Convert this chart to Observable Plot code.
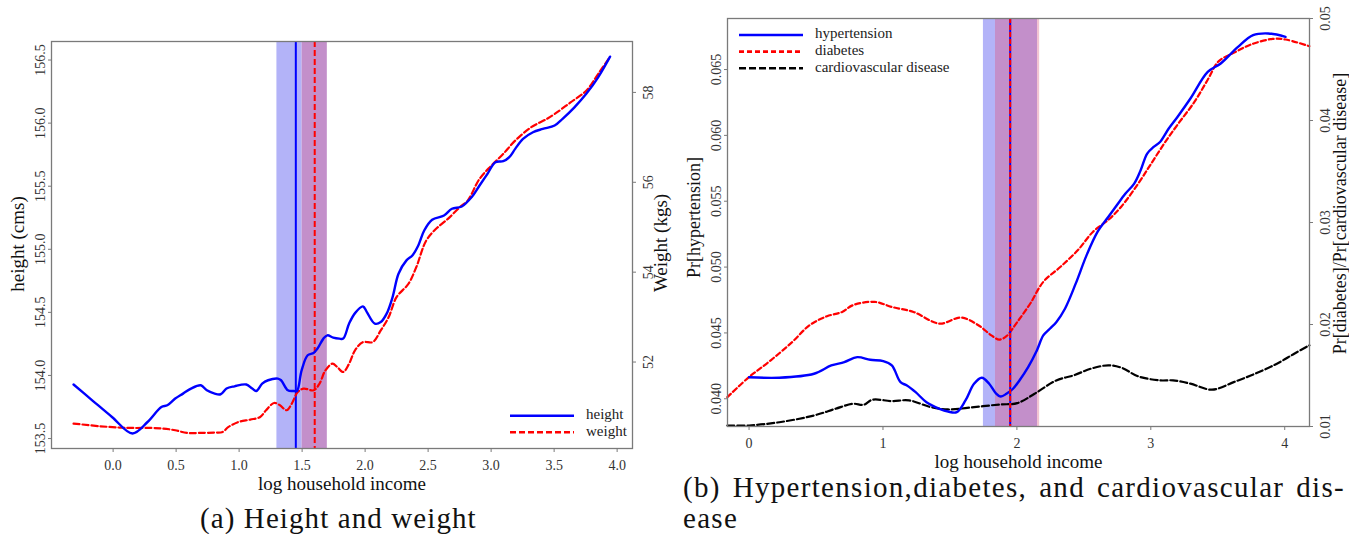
<!DOCTYPE html>
<html>
<head>
<meta charset="utf-8">
<script src="https://cdn.jsdelivr.net/npm/d3@7"></script>
<script src="https://cdn.jsdelivr.net/npm/@observablehq/plot@0.6"></script>
<style>
  html, body { margin: 0; padding: 0; background: #fff; }
  body { width: 1349px; height: 534px; position: relative; overflow: hidden; font-family: "Liberation Serif", "Times New Roman", serif; color: #111; }
  .panel { position: absolute; top: 0; }
  #panelA { left: 0; }
  #panelB { left: 680px; }
  .panel svg { font-family: "Liberation Serif", "Times New Roman", serif; font-size: 14px; }
  .cap { position: absolute; font-size: 29px; line-height: 30px; white-space: nowrap; }
  #capA { left: 200px; top: 503px; letter-spacing: 1.1px; }
  #capB1 { left: 683px; top: 472px; width: 662px; text-align: justify; text-align-last: justify; letter-spacing: 1.3px; }
  #capB2 { left: 683px; top: 503px; letter-spacing: 1.3px; }
  #legend { position: absolute; left: 0; top: 0; pointer-events: none; }
  #legend text { font-family: "Liberation Serif", "Times New Roman", serif; font-size: 15px; fill: #222; dominant-baseline: middle; }
</style>
</head>
<body>
<div id="panelA" class="panel"></div>
<div id="panelB" class="panel"></div>
<svg id="legend" width="1349" height="534"></svg>
<div id="capA" class="cap">(a) Height and weight</div>
<div id="capB1" class="cap">(b) Hypertension,diabetes, and cardiovascular dis-</div>
<div id="capB2" class="cap">ease</div>
<script>
// ---------- Panel (a): height and weight by log household income ----------
const incomeHeight = [-0.314, -0.166, -0.009, 0.154, 0.273, 0.383, 0.430, 0.493, 0.555, 0.618, 0.696, 0.744, 0.806, 0.853, 0.900, 0.963, 1.057, 1.104, 1.136, 1.183, 1.230, 1.308, 1.333, 1.387, 1.434, 1.459, 1.496, 1.544, 1.591, 1.622, 1.669, 1.700, 1.747, 1.795, 1.826, 1.873, 1.920, 1.983, 2.014, 2.077, 2.124, 2.171, 2.218, 2.265, 2.328, 2.375, 2.422, 2.469, 2.532, 2.626, 2.689, 2.767, 2.845, 2.908, 2.971, 3.034, 3.096, 3.144, 3.191, 3.253, 3.332, 3.410, 3.504, 3.567, 3.661, 3.755, 3.849, 3.944];
const heightCm = [153.928, 153.803, 153.671, 153.540, 153.631, 153.750, 153.764, 153.817, 153.856, 153.896, 153.922, 153.882, 153.856, 153.851, 153.896, 153.914, 153.928, 153.896, 153.877, 153.935, 153.962, 153.975, 153.962, 153.882, 153.877, 153.877, 154.041, 154.160, 154.178, 154.213, 154.292, 154.318, 154.300, 154.292, 154.292, 154.411, 154.494, 154.547, 154.502, 154.411, 154.423, 154.490, 154.621, 154.806, 154.912, 154.951, 155.030, 155.149, 155.234, 155.268, 155.321, 155.339, 155.413, 155.506, 155.598, 155.690, 155.698, 155.730, 155.796, 155.875, 155.928, 155.954, 155.981, 156.034, 156.125, 156.232, 156.363, 156.527];

const incomeWeight = [-0.314, -0.104, 0.053, 0.154, 0.304, 0.398, 0.493, 0.587, 0.681, 0.806, 0.869, 0.916, 0.995, 1.089, 1.167, 1.214, 1.277, 1.324, 1.377, 1.418, 1.465, 1.512, 1.591, 1.638, 1.685, 1.741, 1.779, 1.826, 1.873, 1.920, 1.983, 2.061, 2.124, 2.187, 2.249, 2.344, 2.406, 2.485, 2.563, 2.657, 2.751, 2.814, 2.908, 3.002, 3.096, 3.191, 3.316, 3.441, 3.504, 3.630, 3.755, 3.849, 3.944];
const weightKg = [50.631, 50.571, 50.542, 50.533, 50.533, 50.520, 50.482, 50.422, 50.422, 50.431, 50.444, 50.556, 50.667, 50.720, 50.778, 50.927, 51.089, 51.038, 50.927, 51.076, 51.333, 51.409, 51.371, 51.520, 51.816, 51.964, 51.889, 51.778, 51.964, 52.260, 52.444, 52.444, 52.704, 53.000, 53.444, 53.742, 54.111, 54.704, 54.964, 55.187, 55.444, 55.593, 56.076, 56.371, 56.631, 56.927, 57.222, 57.409, 57.520, 57.778, 58.038, 58.409, 58.793];

// estimated breakpoints (solid = height, dashed = weight) and their bands
const breakHeight = 1.45;
const breakWeight = 1.60;
const bandEdgesA = [1.30, 1.50, 1.70];

const incomeTicksA = [0, 0.5, 1, 1.5, 2, 2.5, 3, 3.5, 4];
const heightTicks = [153.5, 154, 154.5, 155, 155.5, 156, 156.5];
const weightTicks = [52, 54, 56, 58];

// ---------- Panel (b): hypertension, diabetes, cardiovascular disease ----------
const incomeHyp = [0, 0.226, 0.485, 0.614, 0.711, 0.808, 0.905, 1.002, 1.066, 1.131, 1.179, 1.244, 1.325, 1.422, 1.486, 1.551, 1.616, 1.680, 1.738, 1.793, 1.842, 1.880, 1.922, 1.971, 2.019, 2.084, 2.149, 2.197, 2.246, 2.294, 2.359, 2.439, 2.520, 2.601, 2.682, 2.746, 2.811, 2.876, 2.924, 2.973, 3.021, 3.069, 3.134, 3.199, 3.296, 3.425, 3.522, 3.651, 3.764, 3.877, 4.006];
const hypertension = [0.04164, 0.04160, 0.04190, 0.04253, 0.04278, 0.04316, 0.04296, 0.04286, 0.04253, 0.04126, 0.04101, 0.04050, 0.03974, 0.03924, 0.03903, 0.03898, 0.03987, 0.04114, 0.04160, 0.04114, 0.04043, 0.04017, 0.04038, 0.04076, 0.04139, 0.04240, 0.04367, 0.04481, 0.04532, 0.04582, 0.04684, 0.04874, 0.05089, 0.05266, 0.05380, 0.05469, 0.05558, 0.05634, 0.05735, 0.05862, 0.05912, 0.05950, 0.06052, 0.06140, 0.06280, 0.06482, 0.06546, 0.06672, 0.06761, 0.06774, 0.06748];

const incomeDia = [-0.162, 0, 0.162, 0.323, 0.452, 0.582, 0.695, 0.775, 0.937, 1.066, 1.228, 1.422, 1.583, 1.712, 1.809, 1.868, 1.922, 2.003, 2.100, 2.197, 2.326, 2.456, 2.569, 2.682, 2.779, 2.908, 3.005, 3.102, 3.199, 3.328, 3.425, 3.506, 3.619, 3.748, 3.910, 4.006, 4.184];
const diabetes = [0.01288, 0.01485, 0.01649, 0.01829, 0.01993, 0.02081, 0.02123, 0.02189, 0.02222, 0.02172, 0.02123, 0.02009, 0.02068, 0.01993, 0.01894, 0.01852, 0.01885, 0.02025, 0.02206, 0.02418, 0.02566, 0.02730, 0.02910, 0.03025, 0.03155, 0.03385, 0.03582, 0.03778, 0.03958, 0.04187, 0.04400, 0.04580, 0.04663, 0.04745, 0.04800, 0.04794, 0.04728];

const incomeCvd = [-0.162, 0, 0.226, 0.485, 0.646, 0.775, 0.856, 0.921, 1.066, 1.195, 1.357, 1.486, 1.680, 1.874, 2.003, 2.132, 2.294, 2.423, 2.553, 2.682, 2.779, 2.908, 3.069, 3.166, 3.296, 3.457, 3.619, 3.780, 3.942, 4.071, 4.184];
const cardiovascular = [0.0101, 0.0101, 0.01042, 0.01108, 0.01174, 0.01223, 0.01213, 0.01262, 0.01249, 0.01256, 0.0119, 0.01167, 0.0119, 0.01216, 0.01229, 0.01321, 0.01452, 0.01501, 0.01567, 0.01600, 0.01577, 0.01491, 0.01452, 0.01452, 0.0142, 0.01361, 0.01435, 0.01518, 0.01616, 0.01714, 0.01796];

const breakB = 1.95;
const bandEdgesB = [1.75, 1.84, 2.154, 2.17];

const incomeTicksB = [0, 1, 2, 3, 4];
const hypTicks = [0.040, 0.045, 0.050, 0.055, 0.060, 0.065];
const rateTicks = [0.01, 0.02, 0.03, 0.04, 0.05];

// ---------- shared styling ----------
const FONT = "Liberation Serif, Times New Roman, serif";
const frameColor = "#7a7a7a";
const tickText = "#333";
const tickFont = 14;
const titleFont = 19;
const bandBlue = "#b3b3f8";
const bandPurple = "#c38fca";
const bandPink = "#f2c4d2";

const axisStyle = {stroke: frameColor, fill: tickText, fontSize: tickFont, fontFamily: FONT, label: null};
const titleStyle = {fontSize: titleFont, fontFamily: FONT, fill: "#111", textAnchor: "middle", lineAnchor: "middle"};

// ---------- Panel (a) ----------
const xDomA = [-0.489, 4.122];
const yDomA = [153.421, 156.647];
const wDomA = [50.076, 59.133];
const kgToCm = w => yDomA[0] + (w - wDomA[0]) / (wDomA[1] - wDomA[0]) * (yDomA[1] - yDomA[0]);
const cmToKg = h => wDomA[0] + (h - yDomA[0]) / (yDomA[1] - yDomA[0]) * (wDomA[1] - wDomA[0]);

const heightRows = incomeHeight.map((x, i) => ({x, y: heightCm[i]}));
const weightRows = incomeWeight.map((x, i) => ({x, y: kgToCm(weightKg[i])}));
const bandsA = [
  {x1: bandEdgesA[0], x2: bandEdgesA[1], fill: bandBlue},
  {x1: bandEdgesA[1], x2: bandEdgesA[2], fill: bandPurple}
];

const plotA = Plot.plot({
  width: 680, height: 500,
  marginLeft: 51, marginRight: 48, marginTop: 41, marginBottom: 52,
  style: {fontFamily: FONT, fontSize: "14px", background: "transparent", color: "#222"},
  x: {domain: xDomA},
  y: {domain: yDomA},
  marks: [
    Plot.rect(bandsA, {x1: "x1", x2: "x2", y1: yDomA[0], y2: yDomA[1], fill: d => d.fill}),
    Plot.ruleX([breakHeight], {stroke: "#0000ff", strokeWidth: 2}),
    Plot.ruleX([breakWeight], {stroke: "#ff0000", strokeWidth: 2, strokeDasharray: "6,3"}),
    Plot.line(weightRows, {x: "x", y: "y", stroke: "#ff0000", strokeWidth: 2.2, strokeDasharray: "6,3", curve: "catmull-rom"}),
    Plot.line(heightRows, {x: "x", y: "y", stroke: "#0000ff", strokeWidth: 2.4, curve: "catmull-rom"}),
    Plot.frame({stroke: frameColor, strokeWidth: 1.3}),
    Plot.axisX(incomeTicksA, {...axisStyle, anchor: "bottom", tickSize: 4, tickPadding: 8, tickFormat: d => d.toFixed(1)}),
    Plot.axisY(heightTicks, {...axisStyle, anchor: "left", tickSize: 3, tickPadding: 4, tickRotate: -90, tickFormat: d => d.toFixed(1)}),
    Plot.axisY(weightTicks.map(kgToCm), {...axisStyle, anchor: "right", tickSize: 3, tickPadding: 8, tickRotate: -90, lineAnchor: "top", tickFormat: d => String(Math.round(cmToKg(d)))}),
    Plot.text(["log household income"], {...titleStyle, frameAnchor: "bottom", dy: 35}),
    Plot.text(["height (cms)"], {...titleStyle, frameAnchor: "left", dx: -34, dy: -1, rotate: -90}),
    Plot.text(["Weight (kgs)"], {...titleStyle, frameAnchor: "right", dx: 28, dy: -2, rotate: -90})
  ]
});
document.getElementById("panelA").append(plotA);

// ---------- Panel (b) ----------
const xDomB = [-0.161, 4.185];
const yDomB = [0.037895, 0.068875];
const rDomB = [0.01, 0.05];
const rateToHyp = v => yDomB[0] + (v - rDomB[0]) / (rDomB[1] - rDomB[0]) * (yDomB[1] - yDomB[0]);
const hypToRate = h => rDomB[0] + (h - yDomB[0]) / (yDomB[1] - yDomB[0]) * (rDomB[1] - rDomB[0]);

const hypRows = incomeHyp.map((x, i) => ({x, y: hypertension[i]}));
const diaRows = incomeDia.map((x, i) => ({x, y: rateToHyp(diabetes[i])}));
const cvdRows = incomeCvd.map((x, i) => ({x, y: rateToHyp(cardiovascular[i])}));
const bandsB = [
  {x1: bandEdgesB[0], x2: bandEdgesB[1], fill: bandBlue},
  {x1: bandEdgesB[1], x2: bandEdgesB[2], fill: bandPurple},
  {x1: bandEdgesB[2], x2: bandEdgesB[3], fill: bandPink}
];

const plotB = Plot.plot({
  width: 669, height: 482,
  marginLeft: 47, marginRight: 40, marginTop: 18, marginBottom: 56,
  style: {fontFamily: FONT, fontSize: "14px", background: "transparent", color: "#222"},
  x: {domain: xDomB},
  y: {domain: yDomB},
  marks: [
    Plot.rect(bandsB, {x1: "x1", x2: "x2", y1: yDomB[0], y2: yDomB[1], fill: d => d.fill}),
    Plot.line(cvdRows, {x: "x", y: "y", stroke: "#000", strokeWidth: 2.2, strokeDasharray: "7,3", curve: "catmull-rom"}),
    Plot.line(diaRows, {x: "x", y: "y", stroke: "#ff0000", strokeWidth: 2.2, strokeDasharray: "5,3", curve: "catmull-rom"}),
    Plot.line(hypRows, {x: "x", y: "y", stroke: "#0000ff", strokeWidth: 2.4, curve: "catmull-rom"}),
    Plot.ruleX([breakB], {stroke: "#0000ff", strokeWidth: 2}),
    Plot.ruleX([breakB], {stroke: "#ff0000", strokeWidth: 2, strokeDasharray: "5,2"}),
    Plot.frame({stroke: frameColor, strokeWidth: 1.3}),
    Plot.axisX(incomeTicksB, {...axisStyle, anchor: "bottom", tickSize: 4, tickPadding: 8, tickFormat: d => String(d)}),
    Plot.axisY(hypTicks, {...axisStyle, anchor: "left", tickSize: 3, tickPadding: 4, tickRotate: -90, tickFormat: d => d.toFixed(3)}),
    Plot.axisY(rateTicks.map(rateToHyp), {...axisStyle, anchor: "right", tickSize: 3, tickPadding: 8, tickRotate: -90, lineAnchor: "top", tickFormat: d => hypToRate(d).toFixed(2)}),
    Plot.text(["log household income"], {...titleStyle, frameAnchor: "bottom", dy: 35}),
    Plot.text(["Pr[hypertension]"], {...titleStyle, fontSize: 18, frameAnchor: "left", dx: -33, dy: -5, rotate: -90}),
    Plot.text(["Pr[diabetes]/Pr[cardiovascular disease]"], {...titleStyle, fontSize: 18, frameAnchor: "right", dx: 31, dy: -9, rotate: -90})
  ]
});
document.getElementById("panelB").append(plotB);

// ---------- legends ----------
const legendItems = [
  {left: 510, top: 415.7, step: 16.6, entries: [
    {label: "height", stroke: "#0000ff", dash: null},
    {label: "weight", stroke: "#ff0000", dash: "6,3"}
  ]},
  {left: 739, top: 35, step: 16.6, entries: [
    {label: "hypertension", stroke: "#0000ff", dash: null},
    {label: "diabetes", stroke: "#ff0000", dash: "5,3"},
    {label: "cardiovascular disease", stroke: "#000", dash: "7,3"}
  ]}
];
const leg = d3.select("#legend");
for (const group of legendItems) {
  group.entries.forEach((e, i) => {
    const y = group.top + i * group.step;
    leg.append("line")
      .attr("x1", group.left).attr("x2", group.left + 64)
      .attr("y1", y).attr("y2", y)
      .attr("stroke", e.stroke).attr("stroke-width", 2.6)
      .attr("stroke-dasharray", e.dash);
    leg.append("text")
      .attr("x", group.left + 76).attr("y", y)
      .text(e.label);
  });
}
</script>
</body>
</html>
